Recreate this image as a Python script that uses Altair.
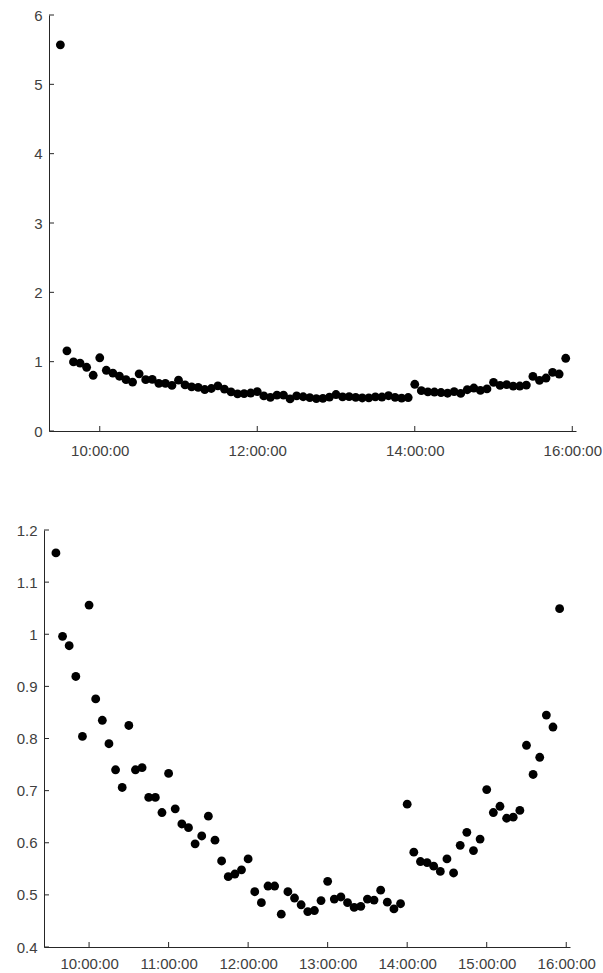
import altair as alt
import pandas as pd

times = [
    "09:30", "09:35", "09:40", "09:45", "09:50", "09:55",
    "10:00", "10:05", "10:10", "10:15", "10:20", "10:25",
    "10:30", "10:35", "10:40", "10:45", "10:50", "10:55",
    "11:00", "11:05", "11:10", "11:15", "11:20", "11:25",
    "11:30", "11:35", "11:40", "11:45", "11:50", "11:55",
    "12:00", "12:05", "12:10", "12:15", "12:20", "12:25",
    "12:30", "12:35", "12:40", "12:45", "12:50", "12:55",
    "13:00", "13:05", "13:10", "13:15", "13:20", "13:25",
    "13:30", "13:35", "13:40", "13:45", "13:50", "13:55",
    "14:00", "14:05", "14:10", "14:15", "14:20", "14:25",
    "14:30", "14:35", "14:40", "14:45", "14:50", "14:55",
    "15:00", "15:05", "15:10", "15:15", "15:20", "15:25",
    "15:30", "15:35", "15:40", "15:45", "15:50", "15:55",
]
values = [
    5.57, 1.156, 0.996, 0.978, 0.919, 0.804,
    1.056, 0.876, 0.835, 0.790, 0.740, 0.706,
    0.825, 0.740, 0.744, 0.687, 0.687, 0.658,
    0.733, 0.665, 0.636, 0.629, 0.598, 0.613,
    0.651, 0.605, 0.565, 0.535, 0.540, 0.548,
    0.569, 0.506, 0.485, 0.517, 0.517, 0.463,
    0.506, 0.494, 0.481, 0.468, 0.470, 0.489,
    0.526, 0.492, 0.496, 0.485, 0.476, 0.478,
    0.492, 0.490, 0.509, 0.486, 0.473, 0.483,
    0.674, 0.582, 0.564, 0.562, 0.555, 0.545,
    0.569, 0.542, 0.595, 0.620, 0.585, 0.607,
    0.702, 0.658, 0.670, 0.647, 0.649, 0.662,
    0.787, 0.731, 0.764, 0.845, 0.822, 1.049,
]

top_x_ticks = ["10:00", "12:00", "14:00", "16:00"]
top_y_ticks = [0, 1, 2, 3, 4, 5, 6]
bottom_x_ticks = ["10:00", "11:00", "12:00", "13:00", "14:00", "15:00", "16:00"]
bottom_y_ticks = [0.4, 0.5, 0.6, 0.7, 0.8, 0.9, 1.0, 1.1, 1.2]

DAY = "2024-01-02 "


def ts(t):
    return pd.to_datetime(DAY + t)


def dt(h, m=0, s=0):
    return alt.DateTime(year=2024, month=1, date=2, hours=h, minutes=m, seconds=s)


df = pd.DataFrame({"time": [ts(t) for t in times], "value": values})
df_bottom = df.iloc[1:].reset_index(drop=True)

FONT = "Liberation Sans"
AX = "#262626"
LAB = "#404040"
FS = 15
TICK = 5


def panel(data, x_ticks, y_ticks, x_dom, y_dom, w, h, yfmt, lab_pad_x, inset=0):
    xvals = [dt(int(t[:2]), int(t[3:])) for t in x_ticks]
    xs = alt.X(
        "time:T",
        scale=alt.Scale(domain=x_dom, range=[inset, w]),
        axis=alt.Axis(
            values=xvals, format="%H:%M:%S", title=None, grid=False,
            ticks=False, tickSize=0, labelPadding=lab_pad_x, labelFlush=False,
            domainColor=AX, labelColor=LAB, labelFont=FONT, labelFontSize=FS,
        ),
    )
    ys = alt.Y(
        "value:Q",
        scale=alt.Scale(domain=y_dom, nice=False, zero=False),
        axis=alt.Axis(
            values=y_ticks, format=yfmt, title=None, grid=False, ticks=False,
            tickSize=0, labelPadding=7, domainColor=AX, labelColor=LAB,
            labelFont=FONT, labelFontSize=FS, offset=-inset,
        ),
    )
    pts = alt.Chart(data).mark_circle(size=78, color="black", opacity=1).encode(
        x=xs, y=ys
    )
    xt = alt.Chart(pd.DataFrame({"t": [ts(t) for t in x_ticks]})).mark_rule(
        color=AX, strokeWidth=1
    ).encode(x="t:T", y=alt.value(h), y2=alt.value(h - TICK))
    yt = alt.Chart(pd.DataFrame({"v": y_ticks})).mark_rule(
        color=AX, strokeWidth=1
    ).encode(y="v:Q", x=alt.value(inset), x2=alt.value(inset + TICK))
    return alt.layer(pts, xt, yt).properties(width=w, height=h)


top = panel(df, top_x_ticks, top_y_ticks,
            [dt(9, 21, 20), dt(16, 2, 50)], [0, 6], 532, 416, "d", 12, inset=5)
bottom = panel(df_bottom, bottom_x_ticks, bottom_y_ticks,
               [dt(9, 26, 0), dt(16, 2, 50)], [0.4, 1.2], 526, 417, ".1~f", 9)

chart = alt.concat(top, bottom, columns=1, spacing=65).properties(
    padding={"left": 16, "top": 8, "right": 0, "bottom": 0},
    background="white",
).configure_view(stroke=None)

chart.save("out.html", embed_options={"renderer": "svg", "actions": False})
